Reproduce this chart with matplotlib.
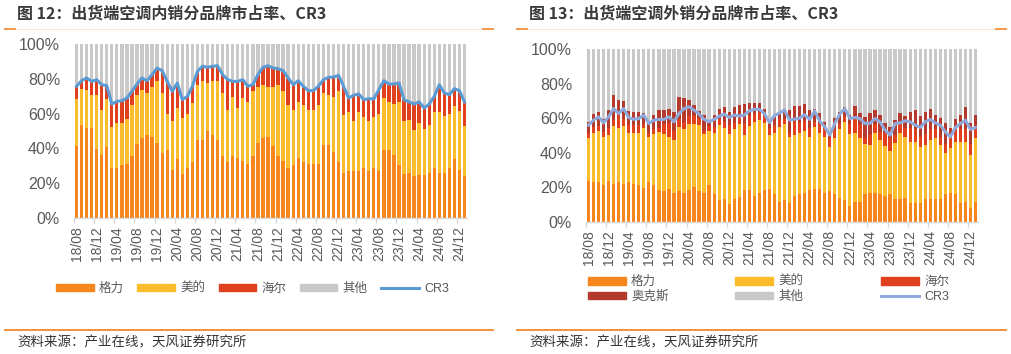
import numpy as np
import pandas as pd
import matplotlib
matplotlib.use('Agg')
import matplotlib.pyplot as plt
from matplotlib.lines import Line2D
from matplotlib.patches import Patch

plt.rcParams['font.family'] = ['Liberation Sans', 'Noto Sans CJK SC']

W, H = 1011, 354

# месяцы 18/08 ... 25/01
months = pd.date_range('2018-08-01', periods=78, freq='MS').strftime('%y/%m').tolist()

# --- 内销 (левый график), % ---
gree_dom = [41.2, 53.3, 51.7, 51.7, 39.7, 36.0, 40.6, 28.5, 28.5, 30.3,
            31.0, 35.4, 42.5, 46.0, 47.5, 46.4, 42.9, 37.2, 39.1, 27.6,
            33.9, 25.3, 28.7, 32.0, 44.8, 44.8, 49.8, 47.5, 44.8, 35.4,
            32.2, 35.4, 34.5, 32.6, 31.0, 35.4, 42.9, 46.0, 46.6, 41.2,
            35.4, 32.6, 28.7, 30.3, 34.5, 32.0, 31.0, 31.0, 31.0, 42.1,
            42.1, 37.9, 32.0, 25.9, 27.2, 27.2, 27.2, 28.5, 26.8, 28.5,
            27.2, 38.9, 38.9, 36.0, 30.3, 25.3, 25.7, 23.9, 24.9, 24.9,
            25.7, 28.7, 25.7, 25.7, 28.7, 33.7, 27.6, 23.9]
midea_dom = [27.0, 21.0, 21.7, 19.2, 31.2, 26.3, 27.6, 23.6, 25.9, 24.1,
             26.1, 29.4, 28.4, 27.6, 24.3, 28.7, 35.6, 34.6, 20.7, 28.0,
             29.3, 32.2, 31.1, 34.1, 31.4, 33.7, 27.8, 31.0, 33.7, 36.4,
             30.1, 33.9, 28.7, 36.4, 35.7, 37.4, 32.2, 30.6, 28.5, 33.9,
             40.8, 40.2, 36.1, 32.0, 32.2, 32.8, 31.3, 31.3, 33.8, 29.5,
             28.8, 31.8, 40.8, 33.5, 33.5, 28.4, 33.5, 29.4, 28.8, 29.4,
             32.6, 30.1, 27.8, 29.5, 36.4, 30.3, 30.6, 26.9, 29.7, 26.4,
             27.9, 32.0, 35.0, 32.7, 31.1, 30.5, 33.7, 28.8]
haier_dom = [7.5, 4.6, 7.1, 7.6, 8.6, 14.3, 7.9, 13.4, 12.6, 13.0,
             11.9, 8.0, 6.1, 6.9, 7.1, 7.3, 7.7, 12.9, 18.7, 17.2,
             14.4, 10.5, 10.1, 9.6, 8.1, 8.7, 9.0, 8.7, 9.0, 10.6,
             17.2, 9.2, 15.3, 10.5, 9.0, 3.8, 7.3, 10.0, 12.4, 11.1,
             9.6, 11.9, 15.7, 14.3, 12.2, 10.9, 10.9, 10.9, 10.9, 7.9,
             9.9, 11.3, 9.2, 16.3, 8.3, 14.9, 10.6, 10.1, 13.0, 10.5,
             14.0, 9.9, 10.3, 11.5, 10.9, 12.4, 10.4, 14.7, 12.1, 11.9,
             11.9, 9.2, 15.9, 13.4, 11.1, 10.1, 11.9, 14.0]
cr3_dom = [75.7, 78.9, 80.5, 78.5, 79.5, 76.6, 76.1, 65.5, 67.0, 67.4,
           69.0, 72.8, 77.0, 80.5, 78.9, 82.4, 86.2, 84.7, 78.5, 72.8,
           77.6, 68.0, 69.9, 75.7, 84.3, 87.2, 86.6, 87.2, 87.5, 82.4,
           79.5, 78.5, 78.5, 79.5, 75.7, 76.6, 82.4, 86.6, 87.5, 86.2,
           85.8, 84.7, 80.5, 76.6, 78.9, 75.7, 73.2, 73.2, 75.7, 79.5,
           80.8, 81.0, 82.0, 75.7, 69.0, 70.5, 71.3, 68.0, 68.6, 68.4,
           73.8, 78.9, 77.0, 77.0, 77.6, 68.0, 66.7, 65.5, 66.7, 63.2,
           65.5, 69.9, 76.6, 71.8, 70.9, 74.3, 73.2, 66.7]

# --- 外销 (правый график), % ---
gree_exp = [23.7, 23.0, 23.0, 21.2, 23.7, 21.8, 23.0, 21.8, 23.0, 21.8,
            21.2, 19.9, 23.0, 21.2, 18.3, 17.8, 19.3, 16.8, 18.0, 16.8,
            18.7, 20.3, 18.0, 16.8, 21.2, 16.0, 12.5, 13.5, 10.6, 13.5,
            14.5, 18.7, 18.7, 14.9, 16.8, 18.3, 19.3, 16.0, 11.6, 12.9,
            11.0, 14.9, 16.0, 16.8, 18.7, 19.3, 19.3, 16.8, 18.0, 16.0,
            14.1, 12.9, 9.1, 11.6, 11.6, 16.0, 16.8, 16.8, 16.0, 14.9,
            16.0, 13.5, 13.5, 14.1, 11.0, 11.0, 11.0, 13.5, 13.5, 13.5,
            13.5, 16.4, 16.8, 16.0, 11.0, 11.6, 8.3, 11.6]
midea_exp = [24.6, 28.7, 29.7, 28.0, 26.5, 33.6, 31.1, 33.6, 28.5, 29.9,
             30.3, 34.2, 26.2, 29.6, 33.8, 33.0, 29.9, 30.5, 37.0, 36.7,
             38.2, 36.6, 38.0, 34.0, 31.5, 35.5, 43.5, 41.1, 40.2, 40.0,
             42.1, 31.5, 36.7, 43.0, 42.1, 39.0, 30.9, 35.5, 43.4, 44.0,
             38.2, 35.3, 35.2, 35.9, 30.5, 35.7, 31.9, 32.4, 25.1, 32.3,
             39.4, 45.0, 41.7, 39.9, 36.7, 29.0, 27.6, 34.7, 31.3, 28.9,
             25.1, 31.9, 38.0, 35.1, 35.3, 35.3, 32.1, 30.9, 33.8, 34.8,
             30.9, 23.2, 25.7, 30.3, 35.3, 34.7, 30.3, 36.7]
haier_exp = [2.9, 3.3, 2.7, 2.9, 3.9, 3.5, 7.7, 4.4, 4.5, 4.3,
             4.5, 2.8, 2.3, 2.7, 2.5, 6.1, 8.1, 5.4, 4.3, 4.4,
             4.3, 4.3, 4.4, 1.9, 2.7, 3.5, 3.3, 3.3, 5.2, 3.8,
             6.1, 6.7, 5.8, 4.5, 4.8, 3.9, 3.9, 4.5, 4.3, 2.9,
             2.0, 7.7, 6.1, 5.8, 4.9, 2.9, 6.1, 4.9, 5.2, 4.8,
             3.4, 2.9, 5.8, 9.7, 7.7, 3.8, 5.8, 5.1, 4.8, 7.4,
             7.2, 4.8, 5.4, 5.4, 7.8, 7.2, 6.1, 6.4, 6.2, 5.2,
             4.8, 5.4, 7.7, 7.2, 7.2, 7.2, 6.4, 6.3]
aux_exp = [6.7, 7.7, 8.3, 7.7, 10.6, 14.5, 8.7, 10.3, 8.3, 7.7,
           7.7, 6.2, 6.4, 8.3, 10.1, 7.8, 8.3, 11.0, 13.1, 13.5,
           9.6, 6.4, 4.0, 9.1, 3.1, 6.8, 6.3, 8.7, 7.7, 9.3,
           4.9, 11.2, 7.7, 6.5, 5.2, 4.4, 3.8, 4.8, 3.4, 5.8,
           13.5, 9.1, 9.7, 9.6, 10.6, 7.7, 5.8, 3.8, 3.8, 7.3,
           6.8, 5.8, 5.2, 5.8, 7.1, 12.0, 12.9, 8.1, 9.7, 6.1,
           6.7, 8.7, 6.2, 6.6, 9.6, 11.2, 12.0, 12.9, 11.6, 8.3,
           11.2, 12.3, 3.9, 5.8, 8.3, 12.7, 12.3, 7.2]
cr3_exp = [56.0, 58.9, 60.8, 57.3, 60.8, 65.6, 62.7, 65.6, 60.4, 59.3,
           59.8, 61.8, 56.9, 58.9, 59.3, 59.3, 60.8, 57.9, 62.7, 65.6,
           66.6, 64.7, 62.4, 59.3, 57.9, 59.3, 61.2, 62.4, 60.4, 61.8,
           61.2, 61.8, 64.3, 65.1, 65.1, 62.7, 57.5, 61.5, 63.0, 64.7,
           58.9, 59.5, 60.0, 62.0, 59.3, 64.3, 58.3, 55.0, 50.2, 56.9,
           62.4, 65.6, 59.8, 60.4, 59.8, 56.9, 57.0, 59.8, 57.9, 53.1,
           50.2, 56.9, 57.3, 58.5, 57.9, 56.0, 54.6, 57.9, 59.3, 57.3,
           56.0, 52.1, 49.2, 54.6, 56.9, 58.9, 53.5, 54.6]

GREE = '#F7861F'
MIDEA = '#FCBD2D'
HAIER = '#E0401E'
AUX = '#B43A2D'
OTHER = '#C9C9C9'
TXT = '#595959'


def rect(x0, y0, x1, y1):
    """прямоугольник в пикселях -> доли фигуры"""
    return [x0 / W, 1 - y1 / H, (x1 - x0) / W, (y1 - y0) / H]


def panel(ax, shares, colors, cr3, cr3_color):
    x = np.arange(len(months))
    bottom = np.zeros(len(months))
    for vals, c in zip(shares, colors[:-1]):
        ax.bar(x, vals, width=0.65, bottom=bottom, color=c, linewidth=0)
        bottom = bottom + np.array(vals)
    # остальное до 100%
    ax.bar(x, 100 - bottom, width=0.65, bottom=bottom, color=colors[-1], linewidth=0)
    ax.plot(x, cr3, color=cr3_color, lw=2.2, zorder=5, solid_joinstyle='round')

    ax.set_xlim(-0.5, len(months) - 0.5)
    ax.set_ylim(0, 100)
    for s in ['top', 'left', 'right']:
        ax.spines[s].set_visible(False)
    ax.spines['bottom'].set_color('#D9D9D9')
    ax.spines['bottom'].set_linewidth(1)

    ax.set_xticks(x[::4])
    ax.set_xticklabels(months[::4], rotation=90, fontsize=10, color=TXT)
    ax.set_xticks(np.arange(-0.5, len(months) - 1, 4), minor=True)
    ax.tick_params(axis='x', which='major', length=0, pad=6)
    ax.tick_params(axis='x', which='minor', length=3.5, color='#D9D9D9', width=1)

    ax.set_yticks(range(0, 101, 20))
    ax.set_yticklabels(['%d%%' % v for v in range(0, 101, 20)], fontsize=11.5, color=TXT)
    ax.tick_params(axis='y', length=0, pad=10)


fig = plt.figure(figsize=(W / 100, H / 100), dpi=100)

ax1 = fig.add_axes(rect(74, 44, 467, 218))
panel(ax1, [gree_dom, midea_dom, haier_dom], [GREE, MIDEA, HAIER, OTHER], cr3_dom, '#5B9BD5')

ax2 = fig.add_axes(rect(586, 49, 978, 222))
panel(ax2, [gree_exp, midea_exp, haier_exp, aux_exp], [GREE, MIDEA, HAIER, AUX, OTHER],
      cr3_exp, '#8EAADC')

# легенды
leg_kw = dict(frameon=False, fontsize=9, handlelength=3.0, handleheight=0.55,
              handletextpad=0.45, borderpad=0, borderaxespad=0, labelcolor=TXT)
h1 = [Patch(color=GREE), Patch(color=MIDEA), Patch(color=HAIER), Patch(color=OTHER),
      Line2D([], [], color='#5B9BD5', lw=2.2)]
fig.legend(h1, ['格力', '美的', '海尔', '其他', 'CR3'], loc='center left',
           bbox_to_anchor=(56 / W, 1 - 289 / H), ncol=5, columnspacing=1.05, **leg_kw)

cols = [(588, [Patch(color=GREE), Patch(color=AUX)], ['格力', '奥克斯']),
        (735, [Patch(color=MIDEA), Patch(color=OTHER)], ['美的', '其他']),
        (881, [Patch(color=HAIER), Line2D([], [], color='#8EAADC', lw=2.2)], ['海尔', 'CR3'])]
for cx, hh, ll in cols:
    fig.legend(hh, ll, loc='center left', bbox_to_anchor=(cx / W, 1 - 289.5 / H),
               ncol=1, labelspacing=0.2, **leg_kw)

# заголовки, линии, источники
for x0, x1, title in [(5, 493, '图 12：出货端空调内销分品牌市占率、CR3'),
                      (517, 1006, '图 13：出货端空调外销分品牌市占率、CR3')]:
    fig.text((x0 + 12) / W, 1 - 14 / H, title, fontsize=11.5, fontweight='bold',
             color='#3A3A3A', va='center', family=['Noto Sans CJK SC'])
    fig.add_artist(Line2D([x0 / W, x1 / W], [1 - 29 / H] * 2, color='#FCE6D2', lw=0.8))
    for a, b in [(x0, x0 + 10), (x1 - 10, x1)]:
        fig.add_artist(Line2D([a / W, b / W], [1 - 29 / H] * 2, color='#F39A4A', lw=1.4))
    fig.add_artist(Line2D([x0 / W, x1 / W], [1 - 330 / H] * 2, color='#F0892C', lw=1.3))
    fig.text((x0 + 12) / W, 1 - 342 / H, '资料来源：产业在线，天风证券研究所', fontsize=9.7,
             color='#333333', va='center', family=['Noto Sans CJK SC'])

fig.savefig('out.png', dpi=100)
